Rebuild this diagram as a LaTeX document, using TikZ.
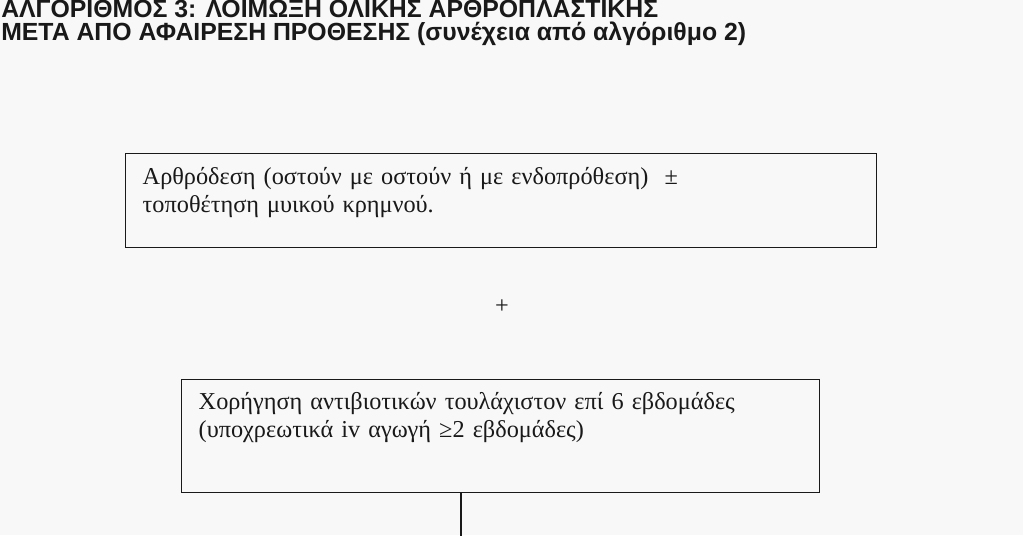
\documentclass[tikz,border=0pt]{standalone}
\usepackage{fontspec}
\setmainfont{Liberation Serif}
\newfontfamily\titlefont{Liberation Sans}
\definecolor{paper}{RGB}{248,248,248}
\definecolor{ink}{RGB}{25,25,25}
\begin{document}
\begin{tikzpicture}[x=0.75pt,y=-0.75pt,
  stepbox/.style={draw=ink, line width=1.1pt, inner ysep=0pt, inner xsep=12.75pt,
    align=left, text=ink, font=\fontsize{18.2}{21}\selectfont},
  titletext/.style={inner sep=0pt, text=ink,
    font=\titlefont\bfseries\fontsize{18.6}{17.25}\selectfont},
  link/.style={draw=ink, line width=0.8pt}]
\useasboundingbox[fill=paper] (0,0) rectangle (1023,535);
\clip (0,0) rectangle (1023,535);
\node[titletext, anchor=north west] (title) at (1,0)
  {\parbox[t]{780pt}{\rule{0pt}{11.25pt}ΑΛΓΟΡΙΘΜΟΣ 3: ΛΟΙΜΩΞΗ ΟΛΙΚΗΣ ΑΡΘΡΟΠΛΑΣΤΙΚΗΣ\\
   ΜΕΤΑ ΑΠΟ ΑΦΑΙΡΕΣΗ ΠΡΟΘΕΣΗΣ (συνέχεια από αλγόριθμο 2)}};
\node[stepbox, anchor=north west, text width=537.75pt,
  text height=23.25pt, text depth=47.25pt] (b1) at (125,153)
  {Αρθρόδεση (οστούν με οστούν ή με ενδοπρόθεση)\ \ ±\\
   τοποθέτηση μυικού κρημνού.};
\node[text=ink, inner sep=0pt, font=\fontsize{18.2}{21}\selectfont] (plus) at (502,307) {+};
\node[stepbox, anchor=north west, text width=453pt,
  text height=22.5pt, text depth=62.25pt] (b2) at (181,379)
  {Χορήγηση αντιβιοτικών τουλάχιστον επί 6 εβδομάδες\\
   (υποχρεωτικά iv αγωγή ≥2 εβδομάδες)};
\coordinate (end) at (461,540);
\draw[link] (b2.south -| end) -- (end);
\end{tikzpicture}
\end{document}
